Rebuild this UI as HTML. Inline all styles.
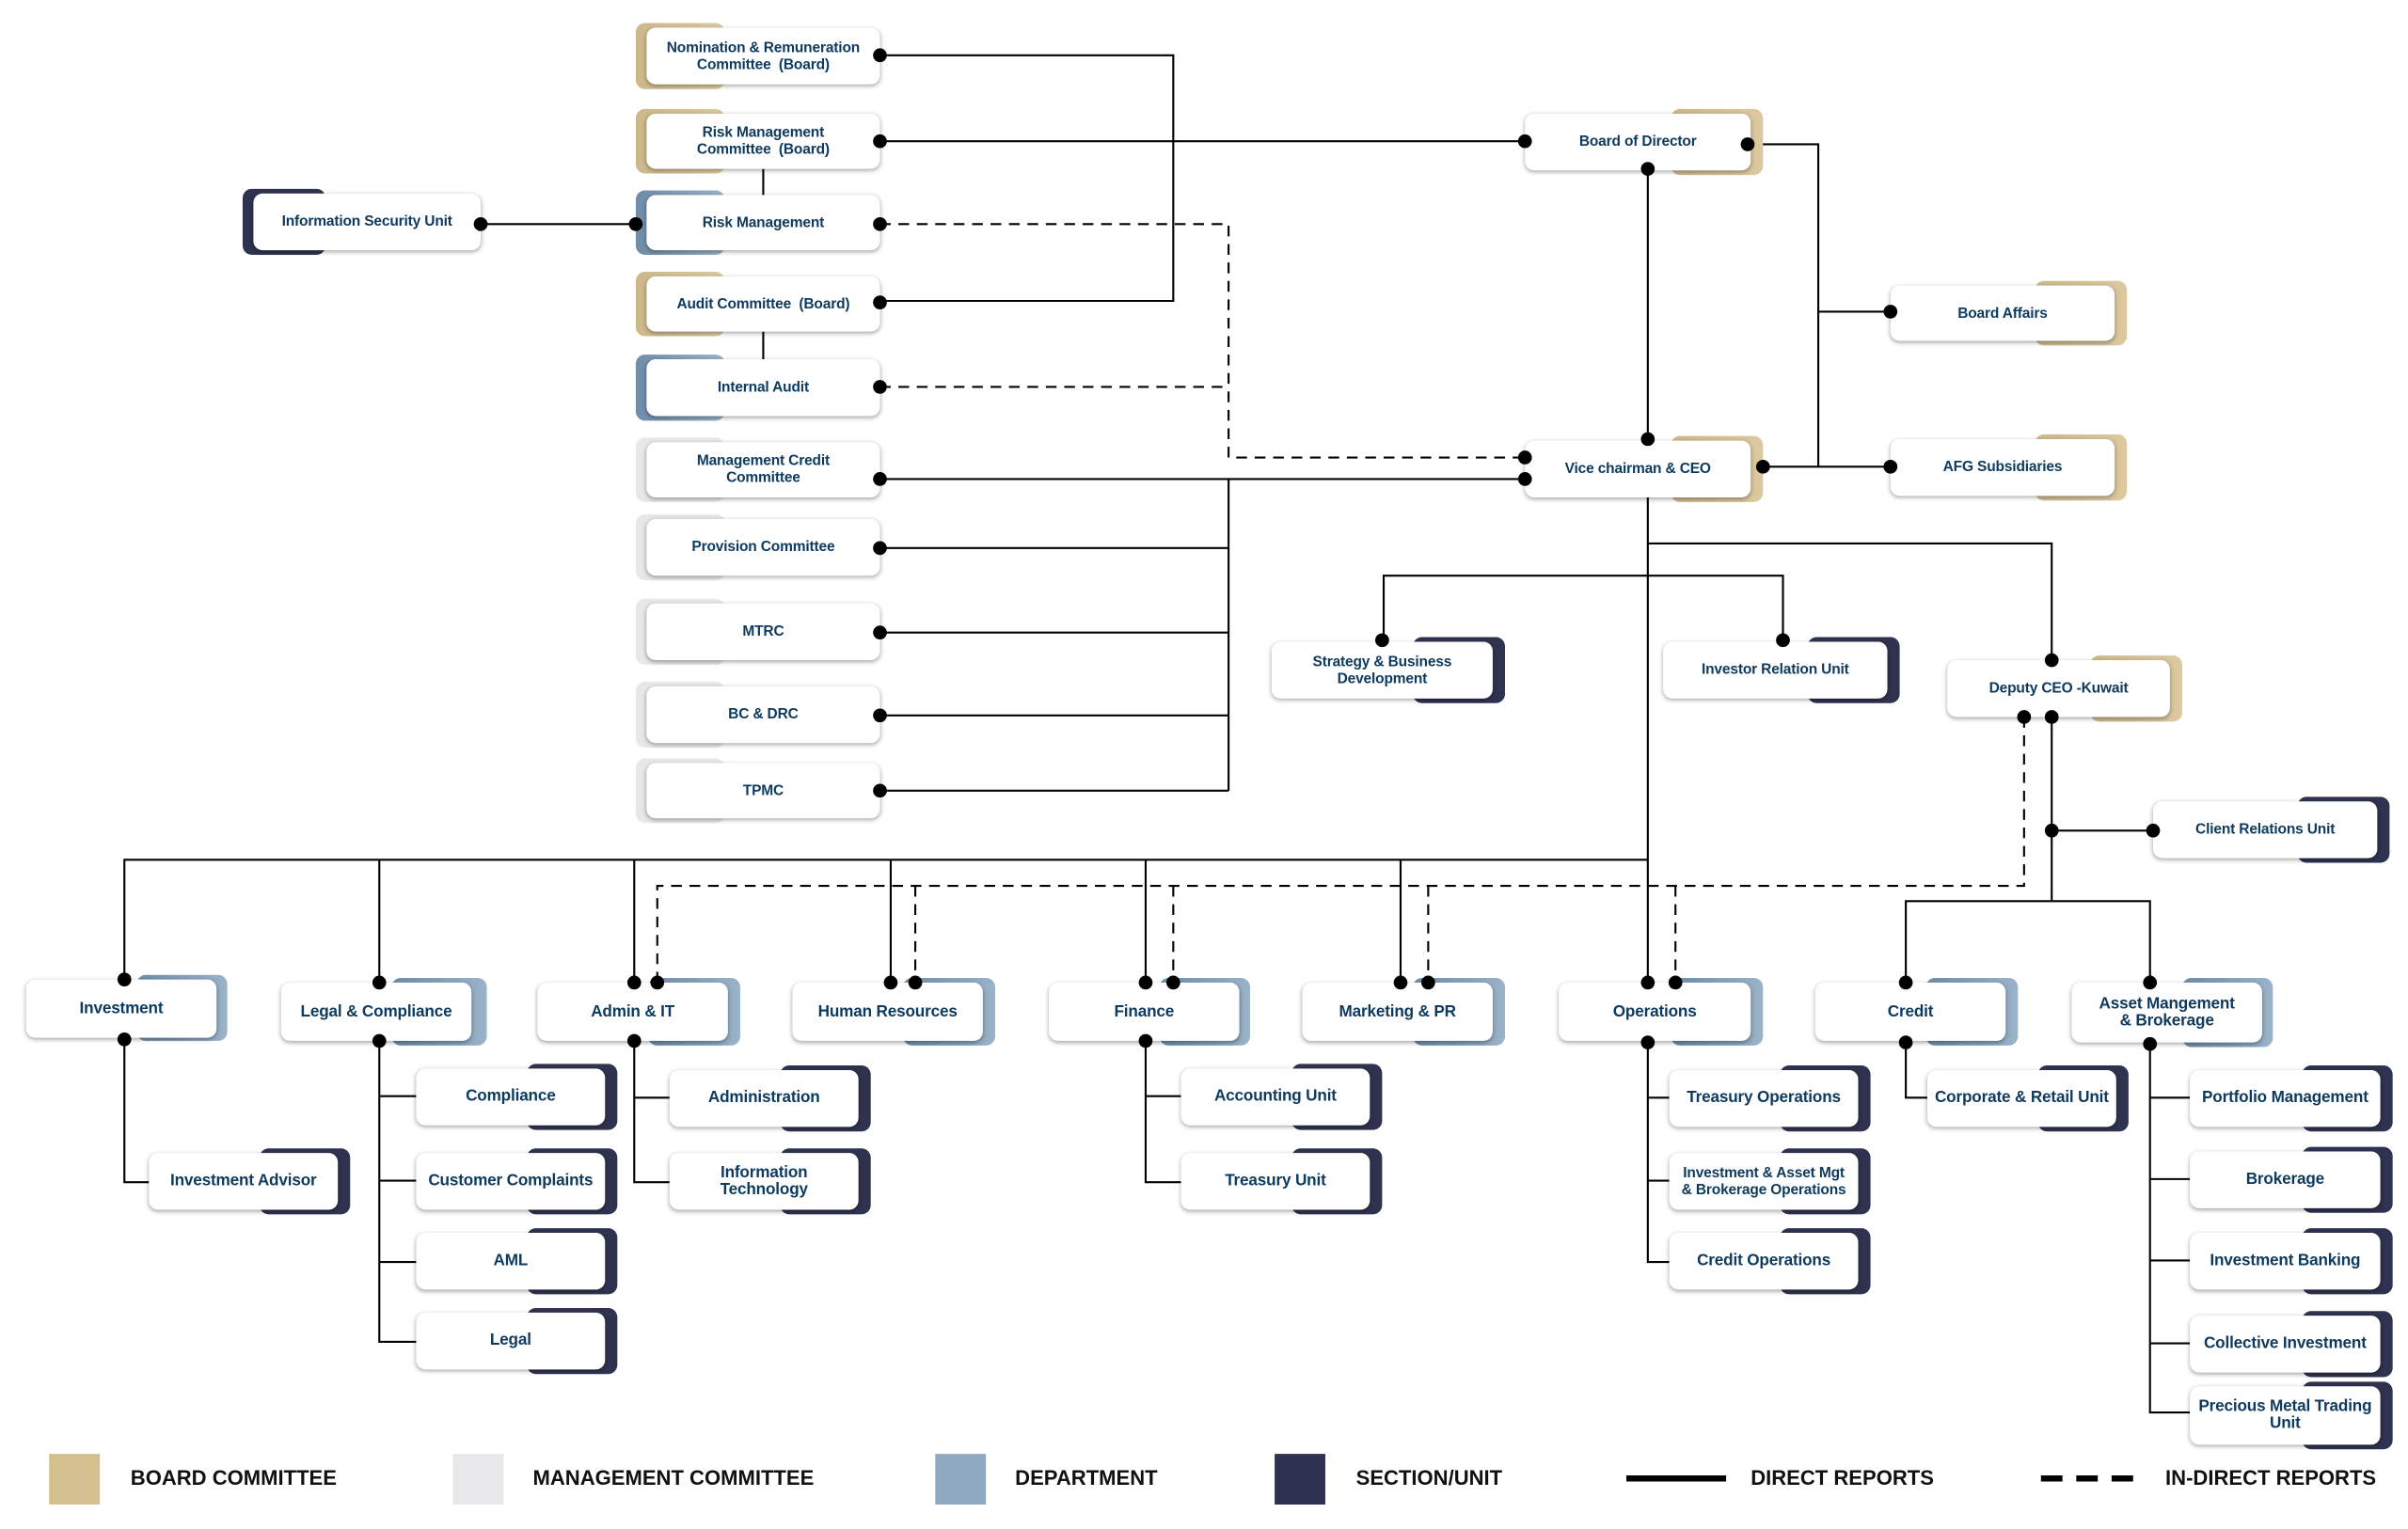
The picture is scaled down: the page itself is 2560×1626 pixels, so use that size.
<!DOCTYPE html>
<html><head><meta charset="utf-8"><style>
html,body{margin:0;padding:0;background:#fff;width:2560px;height:1625px;overflow:hidden}
#c{position:absolute;left:0;top:0;width:1568px;height:996px;transform:scale(1.63265);transform-origin:0 0;font-family:"Liberation Sans",sans-serif}
.a{position:absolute;border-radius:6px}
.g{background:linear-gradient(90deg,#cdb88a,#dcc9a0)}
.bl{background:linear-gradient(90deg,#6f8ca8,#9ab3c9)}
.gr{background:#e8e8ea}
.d{background:#2f3350}
.b{position:absolute;background:#fff;border-radius:6px;box-shadow:0 1px 3px rgba(0,0,0,.35);display:flex;align-items:center;justify-content:center;text-align:center;color:#0d3a5e;font-weight:bold;font-size:9.5px;line-height:11px;letter-spacing:-0.1px}
.dp{font-size:10.5px}
svg{position:absolute;left:0;top:0}
.lg{position:absolute;font-weight:bold;font-size:13.5px;color:#111;top:955px}
.sq{position:absolute;top:947px;width:33px;height:33px}
</style></head><body><div id="c">
<svg width="1568" height="996" fill="none" stroke="#000" stroke-width="1.3">
<path d="M573 36H764V196H573M573 92H993M497 110V127M497 216V234M313 146H414M573 312H993M800 312V515M573 357H800M573 412H800M573 466H800M573 515H800"/>
<path d="M1138 94H1184V304M1184 203H1231M1148 304H1231M1073 110V286M1073 324V640M1073 354H1336V430M901 417V375H1161V417M1336 467V587M1336 541H1402M1241 640V587H1400V640"/>
<path d="M81 640V560H1073M247 640V560M413 640V560M580 640V560M746 640V560M912 640V560"/>
<path d="M81 677V770H97M247 678V874H271M247 714H271M247 769H271M247 822H271M413 678V770H436M413 715H436M746 678V770H769M746 714H769M1073 677V822H1087M1073 715H1087M1073 769H1087M1241 679V715H1255M1400 679V920H1426M1400 715H1426M1400 768H1426M1400 821H1426M1400 875H1426"/>
<path stroke-dasharray="7,5" d="M573 146H800V298H993M573 252H800M1318 467V577H428V640M596 577V640M764 577V640M930 577V640M1091 577V640"/>
<path stroke-width="4" d="M1059 963H1124"/>
<path stroke-width="4" stroke-dasharray="14,9" d="M1329 963H1394"/>
</svg>

<!-- committees -->
<div class="a g" style="left:414px;top:15px;width:58px;height:43px"></div><div class="b" style="left:421px;top:18px;width:152px;height:37px">Nomination &amp; Remuneration<br>Committee&nbsp; (Board)</div>
<div class="a g" style="left:414px;top:71px;width:58px;height:42px"></div><div class="b" style="left:421px;top:74px;width:152px;height:36px">Risk Management<br>Committee&nbsp; (Board)</div>
<div class="a bl" style="left:414px;top:124px;width:58px;height:42px"></div><div class="b" style="left:421px;top:127px;width:152px;height:36px">Risk Management</div>
<div class="a g" style="left:414px;top:177px;width:58px;height:42px"></div><div class="b" style="left:421px;top:180px;width:152px;height:36px">Audit Committee&nbsp; (Board)</div>
<div class="a bl" style="left:414px;top:231px;width:58px;height:43px"></div><div class="b" style="left:421px;top:234px;width:152px;height:37px">Internal Audit</div>
<div class="a gr" style="left:414px;top:285px;width:58px;height:42px"></div><div class="b" style="left:421px;top:288px;width:152px;height:36px">Management Credit<br>Committee</div>
<div class="a gr" style="left:414px;top:335px;width:58px;height:43px"></div><div class="b" style="left:421px;top:338px;width:152px;height:37px">Provision Committee</div>
<div class="a gr" style="left:414px;top:390px;width:58px;height:43px"></div><div class="b" style="left:421px;top:393px;width:152px;height:37px">MTRC</div>
<div class="a gr" style="left:414px;top:444px;width:58px;height:43px"></div><div class="b" style="left:421px;top:447px;width:152px;height:37px">BC &amp; DRC</div>
<div class="a gr" style="left:414px;top:494px;width:58px;height:42px"></div><div class="b" style="left:421px;top:497px;width:152px;height:36px">TPMC</div>
<div class="a d" style="left:158px;top:123px;width:54px;height:43px"></div><div class="b" style="left:165px;top:126px;width:148px;height:37px">Information Security Unit</div>

<!-- top right -->
<div class="a g" style="left:1088px;top:71px;width:60px;height:43px"></div><div class="b" style="left:993px;top:74px;width:147px;height:37px">Board of Director</div>
<div class="a g" style="left:1325px;top:183px;width:60px;height:42px"></div><div class="b" style="left:1231px;top:186px;width:146px;height:36px">Board Affairs</div>
<div class="a g" style="left:1325px;top:283px;width:60px;height:43px"></div><div class="b" style="left:1231px;top:286px;width:146px;height:37px">AFG Subsidiaries</div>
<div class="a g" style="left:1088px;top:284px;width:60px;height:43px"></div><div class="b" style="left:993px;top:287px;width:147px;height:37px">Vice chairman &amp; CEO</div>
<div class="a d" style="left:920px;top:415px;width:60px;height:43px"></div><div class="b" style="left:828px;top:418px;width:144px;height:37px">Strategy &amp; Business<br>Development</div>
<div class="a d" style="left:1177px;top:415px;width:60px;height:43px"></div><div class="b" style="left:1083px;top:418px;width:146px;height:37px">Investor Relation Unit</div>
<div class="a g" style="left:1361px;top:427px;width:60px;height:43px"></div><div class="b" style="left:1268px;top:430px;width:145px;height:37px">Deputy CEO -Kuwait</div>
<div class="a d" style="left:1496px;top:519px;width:60px;height:43px"></div><div class="b" style="left:1402px;top:522px;width:146px;height:37px">Client Relations Unit</div>

<!-- departments -->
<div class="a bl" style="left:89px;top:635px;width:59px;height:43px"></div><div class="b dp" style="left:17px;top:638px;width:124px;height:38px">Investment</div>
<div class="a bl" style="left:255px;top:637px;width:62px;height:44px"></div><div class="b dp" style="left:183px;top:640px;width:124px;height:38px">Legal &amp; Compliance</div>
<div class="a bl" style="left:422px;top:637px;width:60px;height:44px"></div><div class="b dp" style="left:350px;top:640px;width:124px;height:38px">Admin &amp; IT</div>
<div class="a bl" style="left:588px;top:637px;width:60px;height:44px"></div><div class="b dp" style="left:516px;top:640px;width:124px;height:38px">Human Resources</div>
<div class="a bl" style="left:755px;top:637px;width:59px;height:44px"></div><div class="b dp" style="left:683px;top:640px;width:124px;height:38px">Finance</div>
<div class="a bl" style="left:920px;top:637px;width:60px;height:44px"></div><div class="b dp" style="left:848px;top:640px;width:124px;height:38px">Marketing &amp; PR</div>
<div class="a bl" style="left:1088px;top:637px;width:60px;height:44px"></div><div class="b dp" style="left:1015px;top:640px;width:125px;height:38px">Operations</div>
<div class="a bl" style="left:1254px;top:637px;width:60px;height:44px"></div><div class="b dp" style="left:1182px;top:640px;width:124px;height:38px">Credit</div>
<div class="a bl" style="left:1421px;top:637px;width:59px;height:45px"></div><div class="b dp" style="left:1349px;top:640px;width:124px;height:39px">Asset Mangement<br>&amp; Brokerage</div>

<!-- sections -->
<div class="a d" style="left:169px;top:748px;width:59px;height:43px"></div><div class="b dp" style="left:97px;top:751px;width:123px;height:37px">Investment Advisor</div>
<div class="a d" style="left:343px;top:693px;width:59px;height:43px"></div><div class="b dp" style="left:271px;top:696px;width:123px;height:37px">Compliance</div>
<div class="a d" style="left:343px;top:748px;width:59px;height:43px"></div><div class="b dp" style="left:271px;top:751px;width:123px;height:37px">Customer Complaints</div>
<div class="a d" style="left:343px;top:800px;width:59px;height:43px"></div><div class="b dp" style="left:271px;top:803px;width:123px;height:37px">AML</div>
<div class="a d" style="left:343px;top:852px;width:59px;height:43px"></div><div class="b dp" style="left:271px;top:855px;width:123px;height:37px">Legal</div>
<div class="a d" style="left:508px;top:694px;width:59px;height:43px"></div><div class="b dp" style="left:436px;top:697px;width:123px;height:37px">Administration</div>
<div class="a d" style="left:508px;top:748px;width:59px;height:43px"></div><div class="b dp" style="left:436px;top:751px;width:123px;height:37px">Information<br>Technology</div>
<div class="a d" style="left:841px;top:693px;width:59px;height:43px"></div><div class="b dp" style="left:769px;top:696px;width:123px;height:37px">Accounting Unit</div>
<div class="a d" style="left:841px;top:748px;width:59px;height:43px"></div><div class="b dp" style="left:769px;top:751px;width:123px;height:37px">Treasury Unit</div>
<div class="a d" style="left:1159px;top:694px;width:59px;height:43px"></div><div class="b dp" style="left:1087px;top:697px;width:123px;height:37px">Treasury Operations</div>
<div class="a d" style="left:1159px;top:748px;width:59px;height:43px"></div><div class="b" style="left:1087px;top:751px;width:123px;height:37px">Investment &amp; Asset Mgt<br>&amp; Brokerage Operations</div>
<div class="a d" style="left:1159px;top:800px;width:59px;height:43px"></div><div class="b dp" style="left:1087px;top:803px;width:123px;height:37px">Credit Operations</div>
<div class="a d" style="left:1327px;top:694px;width:59px;height:43px"></div><div class="b dp" style="left:1255px;top:697px;width:123px;height:37px">Corporate &amp; Retail Unit</div>
<div class="a d" style="left:1499px;top:694px;width:59px;height:43px"></div><div class="b dp" style="left:1426px;top:697px;width:124px;height:37px">Portfolio Management</div>
<div class="a d" style="left:1499px;top:747px;width:59px;height:43px"></div><div class="b dp" style="left:1426px;top:750px;width:124px;height:37px">Brokerage</div>
<div class="a d" style="left:1499px;top:800px;width:59px;height:43px"></div><div class="b dp" style="left:1426px;top:803px;width:124px;height:37px">Investment Banking</div>
<div class="a d" style="left:1499px;top:854px;width:59px;height:43px"></div><div class="b dp" style="left:1426px;top:857px;width:124px;height:37px">Collective Investment</div>
<div class="a d" style="left:1499px;top:900px;width:59px;height:44px"></div><div class="b dp" style="left:1426px;top:903px;width:124px;height:38px">Precious Metal Trading<br>Unit</div>

<svg width="1568" height="996" fill="#000">
<g>
<circle cx="573" cy="36" r="4.5"/><circle cx="573" cy="92" r="4.5"/><circle cx="573" cy="146" r="4.5"/><circle cx="414" cy="146" r="4.5"/><circle cx="313" cy="146" r="4.5"/><circle cx="573" cy="197" r="4.5"/><circle cx="573" cy="252" r="4.5"/><circle cx="573" cy="312" r="4.5"/><circle cx="573" cy="357" r="4.5"/><circle cx="573" cy="412" r="4.5"/><circle cx="573" cy="466" r="4.5"/><circle cx="573" cy="515" r="4.5"/>
<circle cx="993" cy="92" r="4.5"/><circle cx="1138" cy="94" r="4.5"/><circle cx="1073" cy="110" r="4.5"/><circle cx="1231" cy="203" r="4.5"/><circle cx="1231" cy="304" r="4.5"/><circle cx="1148" cy="304" r="4.5"/><circle cx="1073" cy="286" r="4.5"/><circle cx="993" cy="298" r="4.5"/><circle cx="993" cy="312" r="4.5"/>
<circle cx="900" cy="417" r="4.5"/><circle cx="1161" cy="417" r="4.5"/><circle cx="1336" cy="430" r="4.5"/><circle cx="1318" cy="467" r="4.5"/><circle cx="1336" cy="467" r="4.5"/><circle cx="1336" cy="541" r="4.5"/><circle cx="1402" cy="541" r="4.5"/>
<circle cx="81" cy="638" r="4.5"/><circle cx="81" cy="677" r="4.5"/><circle cx="247" cy="640" r="4.5"/><circle cx="247" cy="678" r="4.5"/><circle cx="413" cy="640" r="4.5"/><circle cx="428" cy="640" r="4.5"/><circle cx="413" cy="678" r="4.5"/><circle cx="580" cy="640" r="4.5"/><circle cx="596" cy="640" r="4.5"/><circle cx="746" cy="640" r="4.5"/><circle cx="764" cy="640" r="4.5"/><circle cx="746" cy="678" r="4.5"/><circle cx="912" cy="640" r="4.5"/><circle cx="930" cy="640" r="4.5"/><circle cx="1073" cy="640" r="4.5"/><circle cx="1091" cy="640" r="4.5"/><circle cx="1073" cy="679" r="4.5"/><circle cx="1241" cy="640" r="4.5"/><circle cx="1241" cy="679" r="4.5"/><circle cx="1400" cy="640" r="4.5"/><circle cx="1400" cy="680" r="4.5"/>
</g></svg>

<div class="sq" style="left:32px;background:#d4bf8f"></div><div class="lg" style="left:85px">BOARD COMMITTEE</div>
<div class="sq" style="left:295px;background:#e8e8ea"></div><div class="lg" style="left:347px">MANAGEMENT COMMITTEE</div>
<div class="sq" style="left:609px;background:#8fa9c1"></div><div class="lg" style="left:661px">DEPARTMENT</div>
<div class="sq" style="left:830px;background:#2e3250"></div><div class="lg" style="left:883px">SECTION/UNIT</div>
<div class="lg" style="left:1140px">DIRECT REPORTS</div>
<div class="lg" style="left:1410px">IN-DIRECT REPORTS</div>
</div></body></html>
